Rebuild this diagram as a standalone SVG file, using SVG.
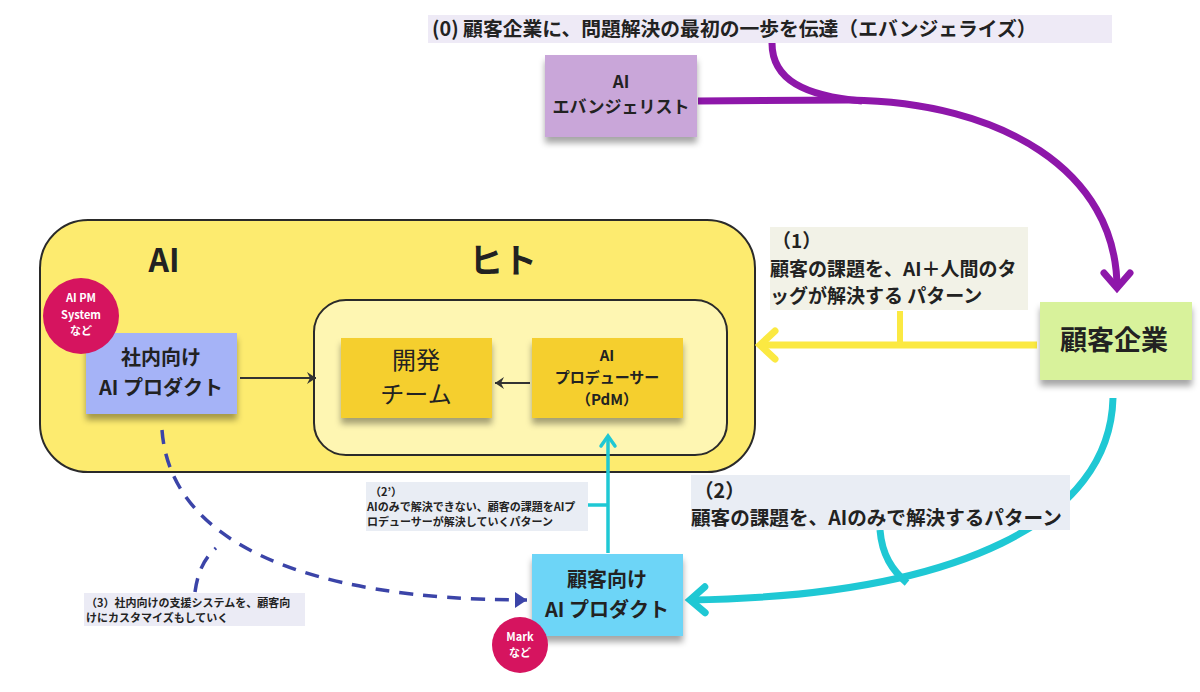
<svg xmlns="http://www.w3.org/2000/svg" width="1200" height="692" viewBox="0 0 1200 692">
<defs>
<filter id="sh" x="-10%" y="-10%" width="120%" height="140%">
<feDropShadow dx="0" dy="6" stdDeviation="3" flood-color="#000" flood-opacity="0.35"/>
</filter>
<marker id="mPurple" markerUnits="userSpaceOnUse" orient="auto" refX="0" refY="0" overflow="visible" markerWidth="1" markerHeight="1">
<path d="M -15,-13 L 0,0 L -15,13" fill="none" stroke="#8e17aa" stroke-width="7" stroke-linecap="round" stroke-linejoin="miter"/>
</marker>
<marker id="mYellow" markerUnits="userSpaceOnUse" orient="auto" refX="0" refY="0" overflow="visible" markerWidth="1" markerHeight="1">
<path d="M -15,-14 L 0,0 L -15,14" fill="none" stroke="#fbe942" stroke-width="7" stroke-linecap="round"/>
</marker>
<marker id="mCyan" markerUnits="userSpaceOnUse" orient="auto" refX="0" refY="0" overflow="visible" markerWidth="1" markerHeight="1">
<path d="M -15,-13 L 0,0 L -15,13" fill="none" stroke="#1fc8d4" stroke-width="7" stroke-linecap="round"/>
</marker>
<marker id="mCyanS" markerUnits="userSpaceOnUse" orient="auto" refX="0" refY="0" overflow="visible" markerWidth="1" markerHeight="1">
<path d="M -10,-7 L 0,0 L -10,7" fill="none" stroke="#1fc8d4" stroke-width="3.5" stroke-linecap="round"/>
</marker>
<marker id="mBlue" markerUnits="userSpaceOnUse" orient="auto" refX="0" refY="0" overflow="visible" markerWidth="1" markerHeight="1">
<path d="M -12,-8 L 0,0 L -12,8 Z" fill="#3b44a8"/>
</marker>
<marker id="mBlack" markerUnits="userSpaceOnUse" orient="auto" refX="0" refY="0" overflow="visible" markerWidth="1" markerHeight="1">
<path d="M -9,-6 L 0,0 L -9,6 L -6,0 Z" fill="#333"/>
</marker>
</defs>
<style>
text{font-family:"Noto Sans CJK JP","Noto Sans",sans-serif;fill:#222;}
.b{font-weight:700;}
.c{text-anchor:middle;}
.w{fill:#fff;}
.lbl{font-weight:700;}
</style>
<rect width="1200" height="692" fill="#fff"/>

<g id="container-main">
<rect x="40" y="220" width="715" height="252" rx="48" fill="#fdeb6f" stroke="#2a2a2a" stroke-width="2"/>
<text x="164" y="272" class="b c" font-size="32">AI</text>
<text x="503" y="273" class="b c" font-size="34">ヒト</text>
</g>
<g id="container-human">
<rect x="314" y="300" width="413" height="155" rx="32" fill="#fef6b2" stroke="#2a2a2a" stroke-width="2"/>
</g>

<g id="connectors" fill="none">
<path d="M 698,101 L 850,100 C 1000,102 1117,170 1117,288" stroke="#8e17aa" stroke-width="7" marker-end="url(#mPurple)"/>
<path d="M 772,43 C 772,80 805,96 862,101" stroke="#8e17aa" stroke-width="7"/>
<path d="M 1037,345 L 760,345" stroke="#fbe942" stroke-width="7" marker-end="url(#mYellow)"/>
<path d="M 900,311 L 900,345" stroke="#fbe942" stroke-width="6"/>
<path d="M 1113,398 C 1110,520 960,596 690,600" stroke="#1fc8d4" stroke-width="7" marker-end="url(#mCyan)"/>
<path d="M 880,530 C 882,555 892,570 907,583" stroke="#1fc8d4" stroke-width="7"/>
<path d="M 608,553 L 608,436" stroke="#1fc8d4" stroke-width="3.5" marker-end="url(#mCyanS)"/>
<path d="M 588,505 L 608,505" stroke="#1fc8d4" stroke-width="3.5"/>
<path d="M 162,430 C 170,540 300,600 527,600" stroke="#3b44a8" stroke-width="3.5" stroke-dasharray="14 10" marker-end="url(#mBlue)"/>
<path d="M 195,592 C 198,570 205,558 216,548" stroke="#3b44a8" stroke-width="3.5" stroke-dasharray="14 10"/>
<path d="M 240,378 L 316,378" stroke="#333" stroke-width="2" marker-end="url(#mBlack)"/>
<path d="M 530,383 L 495,383" stroke="#333" stroke-width="2" marker-end="url(#mBlack)"/>
</g>

<g id="label-0">
<rect x="428" y="15" width="684" height="28" fill="#eeeaf6"/>
<text x="432" y="36" class="lbl" font-size="19.8">(0) 顧客企業に、問題解決の最初の一歩を伝達（エバンジェライズ）</text>
</g>
<g id="node-evangelist">
<rect x="545" y="55" width="152" height="82" fill="#c9a6d9" filter="url(#sh)"/>
<text x="621" y="88" class="b c" font-size="17">AI</text>
<text x="621" y="113" class="b c" font-size="17">エバンジェリスト</text>
</g>
<g id="label-1">
<rect x="770" y="227" width="258" height="83" fill="#f2f2e7"/>
<text class="lbl" font-size="19"><tspan x="772" y="248">（1）</tspan><tspan x="770" y="276">顧客の課題を、AI＋人間のタ</tspan><tspan x="770" y="303">ッグが解決する パターン</tspan></text>
</g>
<g id="node-customer">
<rect x="1040" y="302" width="152" height="78" fill="#d8f29b" filter="url(#sh)"/>
<text x="1114" y="350" class="b c" font-size="27">顧客企業</text>
</g>
<g id="node-internal-ai">
<rect x="86" y="333" width="151" height="81" fill="#a5b3f7" filter="url(#sh)"/>
<text x="161" y="365" class="b c" font-size="20">社内向け</text>
<text x="161" y="395" class="b c" font-size="20">AI プロダクト</text>
</g>
<g id="badge-aipm">
<circle cx="81" cy="316" r="38" fill="#d6145f"/>
<text class="b c w" font-size="11"><tspan x="81" y="302">AI PM</tspan><tspan x="81" y="319">System</tspan><tspan x="81" y="335">など</tspan></text>
</g>
<g id="node-devteam">
<rect x="341" y="338" width="151" height="80" fill="#f5cf2f" filter="url(#sh)"/>
<text x="416" y="369" class="c" font-size="24">開発</text>
<text x="416" y="403" class="c" font-size="24">チーム</text>
</g>
<g id="node-producer">
<rect x="532" y="338" width="151" height="80" fill="#f5cf2f" filter="url(#sh)"/>
<text x="607" y="361" class="b c" font-size="15">AI</text>
<text x="607" y="383" class="b c" font-size="15">プロデューサー</text>
<text x="607" y="405" class="b c" font-size="15">（PdM）</text>
</g>
<g id="label-2">
<rect x="691" y="475" width="379" height="55" fill="#e9edf4"/>
<text class="lbl" font-size="19.6"><tspan x="694" y="498">（2）</tspan><tspan x="691" y="525">顧客の課題を、AIのみで解決するパターン</tspan></text>
</g>
<g id="label-2prime">
<rect x="366" y="482" width="222" height="49" fill="#e9edf4"/>
<text class="lbl" font-size="11"><tspan x="370" y="496">（2’）</tspan><tspan x="367" y="511">AIのみで解決できない、顧客の課題をAIプ</tspan><tspan x="367" y="526">ロデューサーが解決していくパターン</tspan></text>
</g>
<g id="node-customer-ai">
<rect x="532" y="554" width="151" height="82" fill="#6dd5f7" filter="url(#sh)"/>
<text x="607" y="587" class="b c" font-size="20">顧客向け</text>
<text x="607" y="617" class="b c" font-size="20">AI プロダクト</text>
</g>
<g id="badge-mark">
<circle cx="520" cy="645" r="28" fill="#d6145f"/>
<text class="b c w" font-size="11"><tspan x="520" y="641">Mark</tspan><tspan x="520" y="657">など</tspan></text>
</g>
<g id="label-3">
<rect x="84" y="593" width="221" height="33" fill="#ebebf5"/>
<text class="lbl" font-size="11"><tspan x="86" y="607">（3）社内向けの支援システムを、顧客向</tspan><tspan x="86" y="622">けにカスタマイズもしていく</tspan></text>
</g>
</svg>
